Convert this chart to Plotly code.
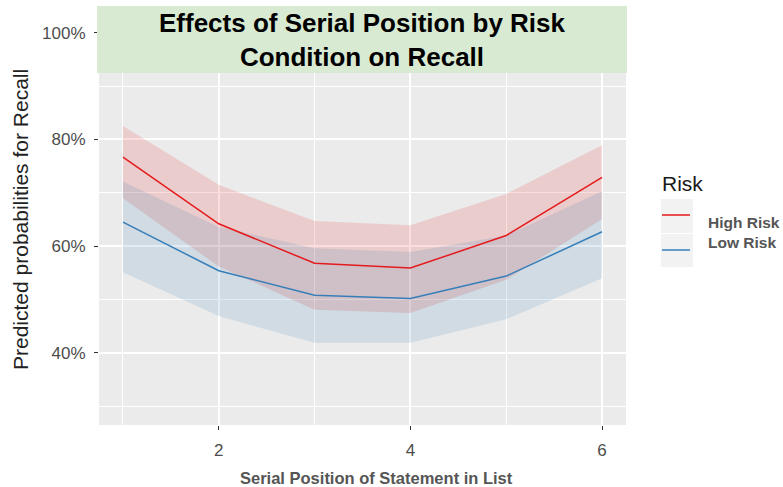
import plotly.graph_objects as go

# Serial position (1-6) and predicted recall probabilities with 95% bands
positions = [1, 2, 3, 4, 5, 6]

high_fit = [0.767, 0.642, 0.568, 0.559, 0.620, 0.729]
high_lo = [0.690, 0.562, 0.481, 0.475, 0.537, 0.651]
high_hi = [0.825, 0.715, 0.647, 0.639, 0.698, 0.789]

low_fit = [0.645, 0.554, 0.508, 0.502, 0.544, 0.627]
low_lo = [0.551, 0.469, 0.419, 0.419, 0.463, 0.540]
low_hi = [0.721, 0.636, 0.596, 0.589, 0.620, 0.703]

series_names = ["High Risk", "Low Risk"]
series_colors = ["#E41A1C", "#377EB8"]
band_colors = ["rgba(228,26,28,0.15)", "rgba(55,126,184,0.15)"]

y_ticks = [0.4, 0.6, 0.8, 1.0]
y_minor = [0.3, 0.5, 0.7, 0.9]
x_ticks = [2, 4, 6]
x_minor = [1, 3, 5]

title_text = "Effects of Serial Position by Risk<br>Condition on Recall"
x_title = "Serial Position of Statement in List"
y_title = "Predicted probabilities for Recall"
legend_title = "Risk"

W, H = 783, 487
L, R, T, B = 99, 626, 14, 425  # plot panel edges in pixels


def px(xp):
    return (xp - L) / (R - L)


def py(yp):
    return (B - yp) / (B - T)


fig = go.Figure()

fits = [high_fit, low_fit]
los = [high_lo, low_lo]
his = [high_hi, low_hi]

# confidence ribbons
for i in range(2):
    fig.add_trace(go.Scatter(
        x=positions + positions[::-1],
        y=his[i] + los[i][::-1],
        fill="toself", fillcolor=band_colors[i],
        line=dict(width=0), mode="lines",
        hoverinfo="skip", showlegend=False,
    ))

# predicted lines
for i in range(2):
    fig.add_trace(go.Scatter(
        x=positions, y=fits[i], mode="lines",
        line=dict(color=series_colors[i], width=1.5),
        name=series_names[i], showlegend=False,
    ))

axis_common = dict(
    showline=False, zeroline=False,
    gridcolor="white", gridwidth=1.6,
    ticks="outside", ticklen=4, tickwidth=1, tickcolor="#333333",
    tickfont=dict(family="Liberation Sans", size=17, color="#4D4D4D"),
)

fig.update_xaxes(
    range=[0.75, 6.25], tickmode="array", tickvals=x_ticks,
    minor=dict(tickmode="array", tickvals=x_minor, showgrid=True,
               gridcolor="white", gridwidth=0.9, ticks=""),
    ticklabelstandoff=6,
    **axis_common,
)
fig.update_yaxes(
    range=[0.265, 1.035], tickmode="array", tickvals=y_ticks,
    tickformat=".0%",
    minor=dict(tickmode="array", tickvals=y_minor, showgrid=True,
               gridcolor="white", gridwidth=0.9, ticks=""),
    ticklabelstandoff=5,
    **axis_common,
)

shapes = []
annotations = []

# title banner
shapes.append(dict(type="rect", xref="paper", yref="paper",
                   x0=px(97), x1=px(627), y0=py(73), y1=py(6),
                   fillcolor="#D9EAD3", line=dict(width=0), layer="above"))
annotations.append(dict(text="<b>" + title_text + "</b>", xref="paper", yref="paper",
                        x=px(362), y=py(40), xanchor="center", yanchor="middle",
                        showarrow=False,
                        font=dict(family="Liberation Sans", size=26, color="#000000")))

# axis titles
annotations.append(dict(text="<b>" + x_title + "</b>", xref="paper", yref="paper",
                        x=px(376), y=py(478), xanchor="center", yanchor="middle",
                        showarrow=False,
                        font=dict(family="Liberation Sans", size=16.5, color="#555555")))
annotations.append(dict(text=y_title, xref="paper", yref="paper",
                        x=px(20), y=py(220), xanchor="center", yanchor="middle",
                        textangle=-90, showarrow=False,
                        font=dict(family="Liberation Sans", size=21, color="#222222")))

# legend
annotations.append(dict(text=legend_title, xref="paper", yref="paper",
                        x=px(660), y=py(183), xanchor="left", yanchor="middle",
                        showarrow=False,
                        font=dict(family="Liberation Sans", size=21, color="#1A1A1A")))
key_boxes = [(199, 233), (234, 267)]
key_lines = [215, 250]
label_y = [222, 242]
for i in range(2):
    shapes.append(dict(type="rect", xref="paper", yref="paper",
                       x0=px(661), x1=px(693), y0=py(key_boxes[i][1]), y1=py(key_boxes[i][0]),
                       fillcolor="#F2F2F2", line=dict(width=0)))
    shapes.append(dict(type="line", xref="paper", yref="paper",
                       x0=px(662), x1=px(690), y0=py(key_lines[i]), y1=py(key_lines[i]),
                       line=dict(color=series_colors[i], width=1.5)))
    annotations.append(dict(text="<b>" + series_names[i] + "</b>", xref="paper", yref="paper",
                            x=px(706), y=py(label_y[i]), xanchor="left", yanchor="middle",
                            showarrow=False,
                            font=dict(family="Liberation Sans", size=15.5, color="#555555")))

fig.update_layout(
    width=W, height=H,
    margin=dict(l=L, r=W - R, t=T, b=H - B),
    paper_bgcolor="white", plot_bgcolor="#EBEBEB",
    shapes=shapes, annotations=annotations,
    showlegend=False,
)

fig.write_html("out.html")
